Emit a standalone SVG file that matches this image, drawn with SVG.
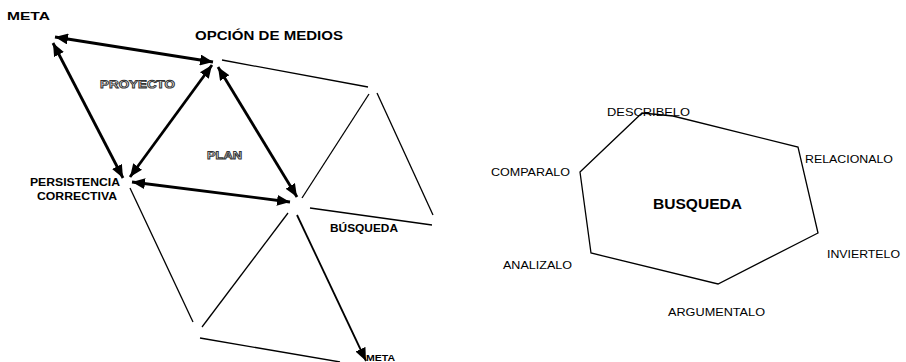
<svg xmlns="http://www.w3.org/2000/svg" width="906" height="362" viewBox="0 0 906 362">
<style>
.b{font-family:"Liberation Sans",Arial,sans-serif;font-weight:bold;fill:#000}
.r{font-family:"Liberation Sans",Arial,sans-serif;fill:#000}
.h{font-family:"Liberation Sans",Arial,sans-serif;font-weight:bold;fill:#fff;stroke:#333;stroke-width:0.9;text-rendering:geometricPrecision}
.thick{stroke:#000;stroke-width:2.8;fill:none;marker-start:url(#ah);marker-end:url(#ah)}
.one{stroke:#000;stroke-width:1.8;fill:none;marker-end:url(#ah)}
.thin{stroke:#000;stroke-width:1.3;fill:none}
</style>
<defs>
<marker id="ah" markerUnits="userSpaceOnUse" markerWidth="14" markerHeight="11" refX="13" refY="5.5" orient="auto-start-reverse">
<path d="M0,0 L13,5.5 L0,11 Z" fill="#000"/>
</marker>
</defs>
<rect width="906" height="362" fill="#fff"/>
<g id="connectors">
<line class="thick" x1="55" y1="37" x2="213" y2="62"/>
<line class="thick" x1="53" y1="43" x2="123" y2="178"/>
<line class="thick" x1="212" y1="65" x2="130" y2="177"/>
<line class="thick" x1="218" y1="67" x2="297" y2="197"/>
<line class="thick" x1="132" y1="182" x2="290" y2="202"/>
<line class="one" x1="297" y1="215" x2="366" y2="361"/>
<line class="thin" x1="222" y1="60" x2="368" y2="87"/>
<line class="thin" x1="369" y1="94" x2="302" y2="198"/>
<line class="thin" x1="377" y1="93" x2="433" y2="215"/>
<line class="thin" x1="310" y1="208" x2="432" y2="225"/>
<line class="thin" x1="130" y1="188" x2="193" y2="322"/>
<line class="thin" x1="288" y1="213" x2="202" y2="327"/>
<line class="thin" x1="200" y1="338" x2="340" y2="362"/>
<polygon class="thin" points="580,172 642,113 673,116 798,147 818,233 718,284 591,253"/>
</g>
<g id="meta-top"><text class="b" x="7" y="20" font-size="11.5" textLength="43" lengthAdjust="spacingAndGlyphs">META</text></g>
<g id="opcion"><text class="b" x="195" y="40" font-size="13" textLength="148" lengthAdjust="spacingAndGlyphs">OPCIÓN DE MEDIOS</text></g>
<g id="proyecto"><text class="h" x="100" y="88" font-size="11" textLength="75" lengthAdjust="spacingAndGlyphs">PROYECTO</text></g>
<g id="plan"><text class="h" x="207" y="159" font-size="11" textLength="35" lengthAdjust="spacingAndGlyphs">PLAN</text></g>
<g id="persistencia">
<text class="b" x="30" y="186" font-size="10.5" textLength="90" lengthAdjust="spacingAndGlyphs">PERSISTENCIA</text>
<text class="b" x="37" y="200" font-size="10.5" textLength="80" lengthAdjust="spacingAndGlyphs">CORRECTIVA</text>
</g>
<g id="busqueda-left"><text class="b" x="330" y="232" font-size="10.5" textLength="68" lengthAdjust="spacingAndGlyphs">BÚSQUEDA</text></g>
<g id="meta-bottom"><text class="b" x="366" y="361" font-size="9.5" textLength="29" lengthAdjust="spacingAndGlyphs">META</text></g>
<g id="busqueda"><text class="b" x="653" y="209" font-size="14" textLength="89" lengthAdjust="spacingAndGlyphs">BUSQUEDA</text></g>
<g id="describelo"><text class="r" x="607" y="116" font-size="11.5" textLength="83" lengthAdjust="spacingAndGlyphs">DESCRIBELO</text></g>
<g id="relacionalo"><text class="r" x="805" y="163" font-size="11.5" textLength="88" lengthAdjust="spacingAndGlyphs">RELACIONALO</text></g>
<g id="comparalo"><text class="r" x="491" y="176" font-size="11.5" textLength="79" lengthAdjust="spacingAndGlyphs">COMPARALO</text></g>
<g id="invertelo"><text class="r" x="827" y="258" font-size="11.5" textLength="73" lengthAdjust="spacingAndGlyphs">INVIERTELO</text></g>
<g id="analizalo"><text class="r" x="503" y="269" font-size="11.5" textLength="69" lengthAdjust="spacingAndGlyphs">ANALIZALO</text></g>
<g id="argumentalo"><text class="r" x="668" y="316" font-size="11.5" textLength="97" lengthAdjust="spacingAndGlyphs">ARGUMENTALO</text></g>
</svg>
